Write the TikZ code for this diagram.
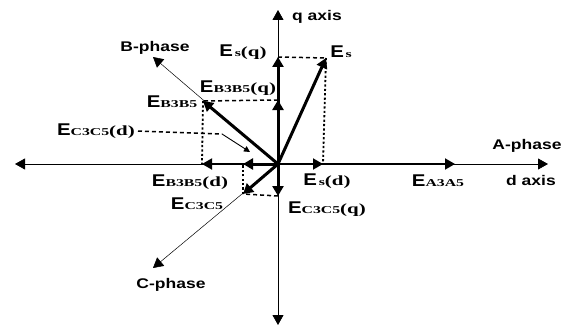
\documentclass[tikz,border=0pt]{standalone}
\usepackage{fontspec}
\setmainfont{Liberation Serif}
\setsansfont{Liberation Sans}
\newfontfamily\lblfont[FakeStretch=1.25]{Liberation Sans}
\newfontfamily\bigEfont[FakeStretch=1.2]{Liberation Sans}
\newfontfamily\subfont[FakeStretch=1.5]{Liberation Serif}
\usetikzlibrary{arrows.meta,positioning}

% big sans E, small serif subscript, optional serif bracket
\newcommand{\Ecomp}[2]{{\bigEfont\bfseries\fontsize{17}{17}\selectfont E}{\subfont\bfseries\fontsize{10.5}{10}\selectfont #1}{\subfont\bfseries\fontsize{14}{14}\selectfont #2}}

\begin{document}
\begin{tikzpicture}[
            x=1pt, y=-1pt,
            axis/.style={-{Triangle[length=10pt,width=11pt]}, line width=0.8pt},
            vec/.style={-{Triangle[length=10pt,width=11pt]}, line width=3pt},
            comp/.style={-{Triangle[length=10pt,width=11pt]}, line width=1.8pt},
            phase/.style={-{Triangle[length=10pt,width=11pt]}, line width=0.5pt},
            hproj/.style={line width=1.5pt, dash pattern=on 4pt off 3pt},
            vproj/.style={line width=1.8pt, dash pattern=on 2.2pt off 2.2pt},
            lbl/.style={inner sep=0pt, font=\lblfont\bfseries\fontsize{14}{14}\selectfont},
            elbl/.style={inner sep=0pt}
        ]
            \useasboundingbox (0,0) rectangle (568,329);

            % --- POINTS ---
            \coordinate (O) at (278,164);
            \coordinate (dL) at (15,164);
            \coordinate (dR) at (548,164);
            \coordinate (qT) at (278,10);
            \coordinate (qB) at (278,325);
            \coordinate (a35) at (455,164);
            \coordinate (esd) at (323,164);
            \coordinate (b35d) at (202,164);
            \coordinate (c35d) at (243,164);
            \coordinate (esq) at (278,57);
            \coordinate (b35q) at (278,100);
            \coordinate (c35q) at (278,196);
            \coordinate (es) at (326,58);
            \coordinate (b35) at (203,101);
            \coordinate (c35) at (243,194);
            \coordinate (bph) at (153,57);
            \coordinate (cph) at (153,268);
            \coordinate (bend) at (222,134);
            \coordinate (ptip) at (250,152);

            % --- AXES ---
            \draw[axis] (O) -- (dL);
            \draw[axis] (O) -- (dR);
            \draw[axis] (O) -- (qT);
            \draw[axis] (O) -- (qB);
            \draw[phase] (O) -- (bph);
            \draw[phase] (O) -- (cph);

            % --- PROJECTIONS ---
            \draw[hproj] (esq) -- (es);
            \draw[vproj] (es) -- (esd);
            \draw[hproj] (b35q) -- (b35);
            \draw[vproj] (b35) -- (b35d);
            \draw[hproj] (c35q) -- (c35);
            \draw[vproj] (c35) -- (c35d);

            % --- VECTORS ---
            \draw[comp] (O) -- (a35);
            \draw[comp] (O) -- (esd);
            \draw[comp] (O) -- (b35d);
            \draw[vec] (O) -- (c35d);
            \draw[vec] (O) -- (esq);
            \draw[vec] (O) -- (b35q);
            \draw[vec] (O) -- (c35q);
            \draw[vec] (O) -- (es);
            \draw[vec] (O) -- (b35);
            \draw[vec] (O) -- (c35);

            % --- LABELS ---
            \node[lbl, anchor=west] (qlab) at (292,17) {q axis};
            \node[lbl] (dlab) at (531,180) {d axis};
            \node[lbl] (alab) at (527,146) {A-phase};
            \node[lbl] (blab) at (155,48) {B-phase};
            \node[lbl] (clab) at (171,285) {C-phase};
            \node[elbl] (esqlab) at (243,52) {\Ecomp{\,s}{(q)}};
            \node[elbl] (eslab) at (341,52) {\Ecomp{\,s}{}};
            \node[elbl] (b35qlab) at (238,88) {\Ecomp{B3B5}{(q)}};
            \node[elbl] (b35lab) at (172,102) {\Ecomp{B3B5}{}};
            \node[elbl, anchor=east] (c35dlab) at (135,131) {\Ecomp{C3C5}{(d)}};
            \node[elbl] (b35dlab) at (190,182) {\Ecomp{B3B5}{(d)}};
            \node[elbl] (c35lab) at (197,204) {\Ecomp{C3C5}{}};
            \node[elbl] (esdlab) at (327,181) {\Ecomp{\,s}{(d)}};
            \node[elbl] (c35qlab) at (327,209) {\Ecomp{C3C5}{(q)}};
            \node[elbl] (a35lab) at (438,181) {\Ecomp{A3A5}{}};

            % --- POINTER ---
            \draw[hproj] (c35dlab.east) ++(3,0) -- (bend);
            \draw[-{Triangle[length=6pt,width=6pt]}, line width=0.9pt] (bend) -- (ptip);
        \end{tikzpicture}
\end{document}
